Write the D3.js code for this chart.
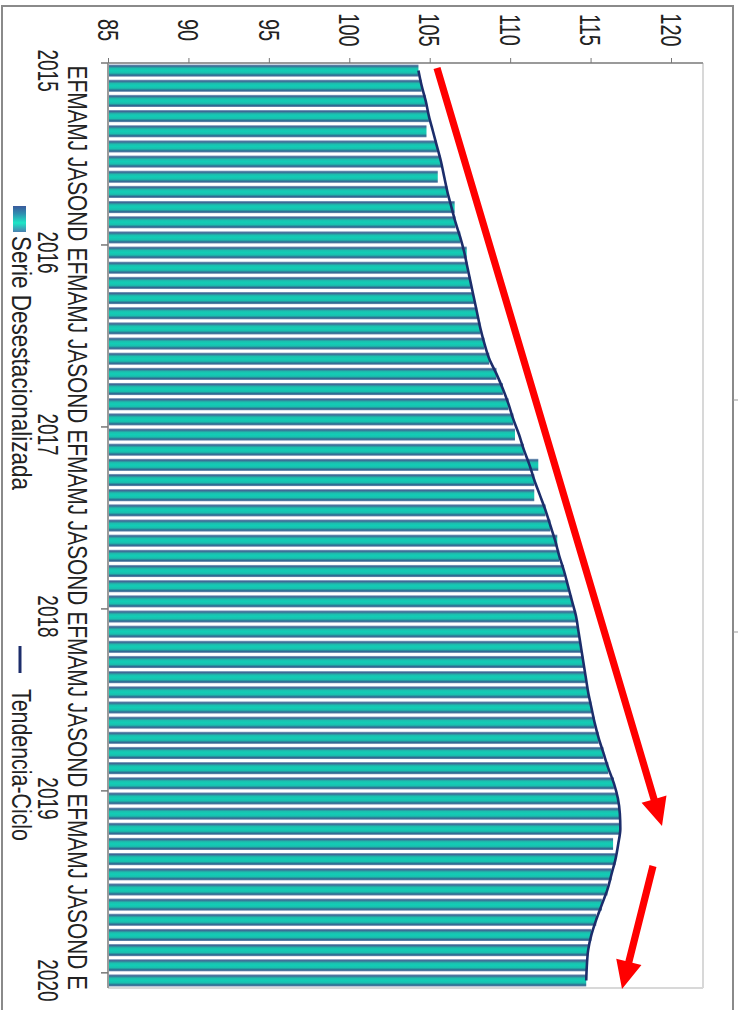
<!DOCTYPE html>
<html><head><meta charset="utf-8">
<script src="https://cdn.jsdelivr.net/npm/d3@7"></script>
<style>body{margin:0;background:#fff}svg{display:block}text{font-family:"Liberation Sans",Arial,sans-serif;fill:#222}</style>
</head><body><svg id="c" width="740" height="1010"></svg>
<script>
const monthLetters = ["E","F","M","A","M","J","J","A","S","O","N","D"];
const years = [2015,2016,2017,2018,2019,2020];
const valueTicks = [85,90,95,100,105,110,115,120];
const serieDesestacionalizada = [
104.3,104.5,104.75,104.95,104.8,105.45,105.7,105.5,106.1,106.55,106.6,106.9,
107.3,107.35,107.55,107.75,107.95,108.15,108.4,108.7,109.15,109.55,109.9,110.2,
110.3,110.85,111.75,111.5,111.5,112.2,112.5,112.93,113.05,113.35,113.6,113.85,
114.1,114.25,114.4,114.55,114.7,114.85,115.05,115.25,115.5,115.8,116.1,116.45,
116.7,116.82,116.85,116.4,116.55,116.3,116.05,115.7,115.35,115.05,114.85,114.77,
114.73];
const tendenciaCiclo = [
104.3,104.5,104.75,104.95,105.2,105.45,105.7,105.9,106.1,106.35,106.6,106.9,
107.15,107.35,107.55,107.75,107.95,108.15,108.4,108.7,109.15,109.55,109.9,110.2,
110.55,110.85,111.2,111.5,111.85,112.2,112.5,112.8,113.05,113.35,113.6,113.85,
114.1,114.25,114.4,114.55,114.7,114.85,115.05,115.25,115.5,115.8,116.1,116.45,
116.7,116.82,116.85,116.72,116.55,116.3,116.05,115.7,115.35,115.05,114.85,114.77,
114.73];
const legendLabels = ["Serie Desestacionalizada","Tendencia-Ciclo"];
// annotation arrows: [x1,y1,tipX,tipY]
const arrows = [[437,68,662,826],[653,866,622,989]];

const cats = [];
years.forEach(yr => monthLetters.forEach((m,i) => { if (cats.length < serieDesestacionalizada.length) cats.push({key: yr+"-"+i, m, yr, i}); }));

const svg = d3.select("#c");
const defs = svg.append("defs");
const g1 = defs.append("linearGradient").attr("id","barGrad").attr("x1",0).attr("y1",0).attr("x2",0).attr("y2",1);
[[0,"#8aa6c4"],[0.12,"#3e6894"],[0.32,"#1cbfae"],[0.5,"#12cdb6"],[0.7,"#1abfae"],[0.88,"#306890"],[1,"#6a8cb0"]]
  .forEach(([o,c]) => g1.append("stop").attr("offset",o).attr("stop-color",c));
const g2 = defs.append("linearGradient").attr("id","legGrad").attr("x1",0).attr("y1",0).attr("x2",0).attr("y2",1);
[[0,"#3a5a9c"],[0.3,"#2f8fb0"],[0.65,"#1ee6c6"],[1,"#4a80b0"]]
  .forEach(([o,c]) => g2.append("stop").attr("offset",o).attr("stop-color",c));

// outer frame
svg.append("rect").attr("x",2).attr("y",6).attr("width",731).attr("height",1020)
  .attr("fill","none").attr("stroke","#8a8a8a").attr("stroke-width",2);
[400,632].forEach(yy => svg.append("line").attr("x1",733).attr("x2",738).attr("y1",yy).attr("y2",yy).attr("stroke","#999"));

const x = d3.scaleLinear().domain([85,120]).range([108,671]);
const y = d3.scaleBand().domain(cats.map(d=>d.key)).range([63,988]).paddingInner(0.2).paddingOuter(0.1);
const step = y.step();

// plot frame
svg.append("line").attr("x1",703).attr("x2",703).attr("y1",63).attr("y2",988).attr("stroke","#d8d8d8").attr("stroke-width",2);
svg.append("line").attr("x1",108).attr("x2",703).attr("y1",988).attr("y2",988).attr("stroke","#d8d8d8").attr("stroke-width",2);

// bars
svg.append("g").selectAll("rect").data(cats).join("rect")
  .attr("x", x(85)).attr("y", d => y(d.key))
  .attr("width", (d,i) => x(serieDesestacionalizada[i]) - x(85))
  .attr("height", y.bandwidth()).attr("fill","url(#barGrad)");

// trend line
const line = d3.line().x(d => x(d.v)).y(d => y(d.key) + y.bandwidth()/2).curve(d3.curveMonotoneY);
svg.append("path").datum(cats.map((d,i)=>({key:d.key, v:tendenciaCiclo[i]})))
  .attr("d", line).attr("fill","none").attr("stroke","#1c2d6b").attr("stroke-width",2.6).attr("stroke-linejoin","round");

// value axis (top)
const ax = svg.append("g").attr("transform","translate(0,63)")
  .call(d3.axisTop(x).tickValues(valueTicks).tickSize(5).tickSizeOuter(0));
ax.select(".domain").attr("stroke","#9a9a9a").attr("stroke-width",2).attr("d","M108,0H703");
ax.selectAll(".tick line").attr("stroke","#777");
const vf = 20, vs = 1.5, vcap = 0.716*vf*vs;
ax.selectAll(".tick text").attr("x",null).attr("y",null).attr("dy",null)
  .attr("fill","#222").attr("font-size",vf).attr("font-family","Liberation Sans, Arial, sans-serif")
  .attr("text-anchor","middle")
  .attr("transform",`translate(${-vcap/2},-33) rotate(90) scale(1,${vs})`);

// category axis (left)
svg.append("line").attr("x1",108).attr("x2",108).attr("y1",63).attr("y2",988).attr("stroke","#9a9a9a").attr("stroke-width",2);
const yearStarts = cats.filter(d => d.i === 0);
svg.append("g").selectAll("line").data(yearStarts).join("line")
  .attr("x1",101).attr("x2",108)
  .attr("y1", d => y(d.key) - step*y.paddingInner()/2).attr("y2", d => y(d.key) - step*y.paddingInner()/2)
  .attr("stroke","#777").attr("stroke-width",1.5);

// month letters, one string per year
const mf = 22, ms = 1.27;
const yearGroups = years.map(yr => {
  const ms_ = cats.filter(d => d.yr === yr);
  const letters = ms_.map(d => d.m);
  const txt = letters.length > 6 ? letters.slice(0,6).join("") + " " + letters.slice(6).join("") : letters.join("");
  return {yr, first: ms_[0], txt, n: letters.length};
});
svg.append("g").selectAll("text").data(yearGroups).join("text")
  .attr("transform", d => `translate(68,${y(d.first.key)+1}) rotate(90) scale(1,${ms})`)
  .attr("text-anchor","start").attr("font-size",mf)
  .attr("textLength", d => d.n === 12 ? step*11.6 : null)
  .attr("lengthAdjust","spacingAndGlyphs")
  .text(d => d.txt);

const yf = 19, ys = 1.6;
svg.append("g").selectAll("text").data(yearStarts).join("text")
  .attr("transform", d => `translate(38,${y(d.key)+y.bandwidth()/2}) rotate(90) scale(1,${ys})`)
  .attr("text-anchor","middle").attr("font-size",yf).text(d => d.yr);

// legend
const lf = 22.5, ls = 1.25;
svg.append("rect").attr("x",13).attr("y",206).attr("width",13).attr("height",26).attr("fill","url(#legGrad)");
svg.append("text").attr("transform",`translate(12,236) rotate(90) scale(1,${ls})`).attr("font-size",lf)
  .attr("textLength",254).attr("lengthAdjust","spacingAndGlyphs").text(legendLabels[0]);
svg.append("line").attr("x1",20).attr("x2",20).attr("y1",646).attr("y2",673).attr("stroke","#1c2d6b").attr("stroke-width",3);
svg.append("text").attr("transform",`translate(12,689) rotate(90) scale(1,${ls})`).attr("font-size",lf)
  .attr("textLength",152).attr("lengthAdjust","spacingAndGlyphs").text(legendLabels[1]);

// red arrows
const ag = svg.append("g").attr("fill","#ff0000").attr("stroke","none");
arrows.forEach(([x1,y1,tx,ty]) => {
  const dx = tx-x1, dy = ty-y1, L = Math.hypot(dx,dy), ux = dx/L, uy = dy/L, px = -uy, py = ux;
  const hl = 28, hw = 13, sw = 3.6;
  const bx = tx - ux*hl, by = ty - uy*hl;
  const pts = [
    [x1+px*sw, y1+py*sw],[bx+px*sw, by+py*sw],[bx+px*hw, by+py*hw],[tx,ty],
    [bx-px*hw, by-py*hw],[bx-px*sw, by-py*sw],[x1-px*sw, y1-py*sw]];
  ag.append("polygon").attr("points", pts.map(p=>p.join(",")).join(" "));
});
</script></body></html>
